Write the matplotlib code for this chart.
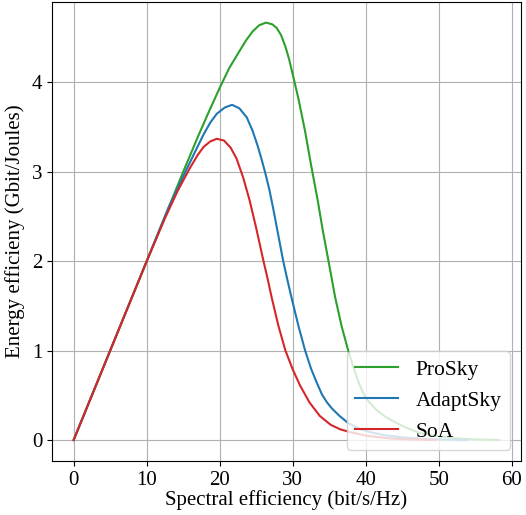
import matplotlib
matplotlib.use('Agg')
import matplotlib.pyplot as plt

# values
prosky_x = [0, 5, 10, 15, 17, 18.5, 20, 21.3, 22.7, 23.6, 24.5, 25.4, 26.35, 27.2, 27.8,
            28.4, 29.0, 29.5, 30.0, 30.8, 31.7, 32.5, 33.4, 34.1, 34.9, 35.8, 36.7, 37.6,
            38.2, 38.9, 39.5, 40.2, 41.4, 42.7, 44.0, 45.2, 47.5, 50.0, 53.0, 56.0, 58.3]
prosky_y = [0, 1.0, 2.0, 3.0, 3.39, 3.67, 3.94, 4.16, 4.35, 4.47, 4.57, 4.64, 4.67, 4.65, 4.61,
            4.53, 4.40, 4.26, 4.09, 3.81, 3.45, 3.08, 2.69, 2.35, 2.0, 1.60, 1.27, 1.0,
            0.84, 0.67, 0.55, 0.45, 0.34, 0.26, 0.20, 0.15, 0.075, 0.04, 0.015, 0.005, 0.0]

adapt_x = [0, 5, 10, 13, 15.3, 16.6, 17.8, 18.7, 19.6, 20.7, 21.7, 22.7, 23.7, 24.5, 25.2,
           25.7, 26.2, 26.8, 27.3, 28.0, 28.7, 29.3, 29.9, 30.8, 31.7, 32.5, 33.3, 34.0,
           34.7, 35.4, 36.4, 37.6, 39.0, 40.5, 42.5, 45.0, 48.0, 51.0, 54.0]
adapt_y = [0, 1.0, 2.0, 2.6, 3.0, 3.22, 3.42, 3.55, 3.65, 3.72, 3.75, 3.71, 3.61, 3.46, 3.29,
           3.15, 3.0, 2.80, 2.60, 2.30, 2.0, 1.78, 1.57, 1.27, 1.0, 0.80, 0.64, 0.51,
           0.42, 0.35, 0.27, 0.19, 0.13, 0.09, 0.055, 0.03, 0.012, 0.004, 0.0]

soa_x = [0, 5, 10, 12.5, 14.2, 15.9, 17.0, 17.8, 18.7, 19.6, 20.6, 21.5, 22.3, 23.2, 24.1,
         25.0, 26.0, 26.6, 27.1, 28.0, 29.0, 30.0, 31.0, 32.3, 33.7, 35.2, 36.5, 37.8,
         40.0, 43.0, 46.0, 49.5]
soa_y = [0, 1.0, 2.0, 2.48, 2.78, 3.04, 3.19, 3.28, 3.34, 3.37, 3.35, 3.27, 3.15, 2.94, 2.68,
         2.37, 2.0, 1.79, 1.60, 1.29, 1.0, 0.79, 0.61, 0.42, 0.27, 0.17, 0.12, 0.09,
         0.05, 0.02, 0.007, 0.0]

plt.rcParams['font.family'] = ['Liberation Serif', 'DejaVu Serif']

fig = plt.figure(figsize=(5.26, 5.15), dpi=100)
ax = fig.add_subplot(111)
fig.subplots_adjust(left=0.0995, right=0.99, top=0.9967, bottom=0.105)

ax.plot(prosky_x, prosky_y, color='tab:green', lw=1.5, label='ProSky')
ax.plot(adapt_x, adapt_y, color='tab:blue', lw=1.5, label='AdaptSky')
ax.plot(soa_x, soa_y, color='tab:red', lw=1.5, label='SoA')

ax.grid(True)
ax.set_xlabel('Spectral efficiency (bit/s/Hz)', fontsize=15, labelpad=0)
ax.set_ylabel('Energy efficieny (Gbit/Joules)', fontsize=15, labelpad=5)
ax.tick_params(labelsize=15)
ax.legend(loc='lower right', fontsize=15.5)

fig.savefig('out.png', dpi=100)
